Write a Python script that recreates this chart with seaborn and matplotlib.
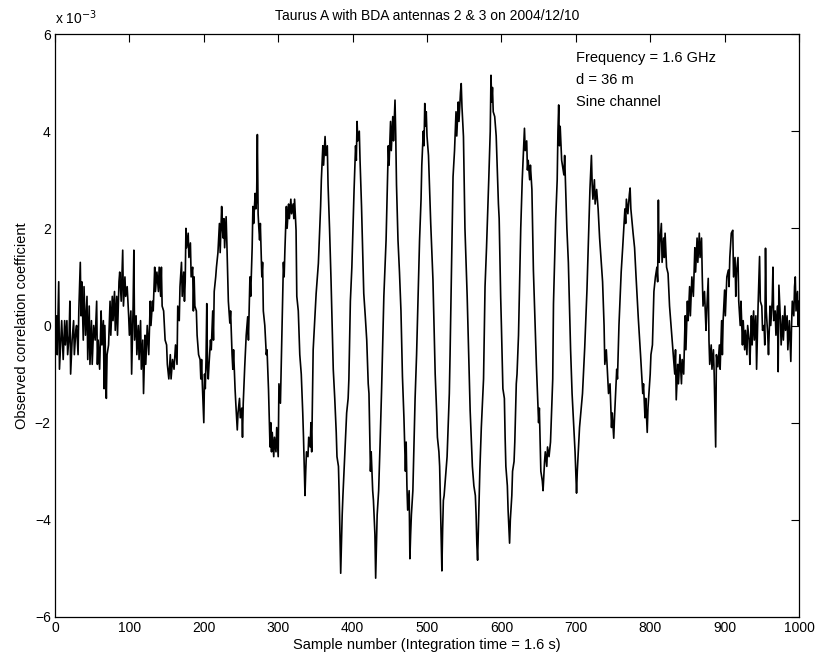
import matplotlib
matplotlib.use("Agg")
import matplotlib.pyplot as plt
import seaborn as sns
import pandas as pd

# ---- data (values in units of 1e-3) ----
sample_number = [
    0, 2, 3, 5, 6, 8, 9, 11, 13, 14, 16, 17, 19, 20, 21, 23, 25, 26, 28, 29,
    31, 32, 34, 35, 36, 38, 39, 41, 43, 44, 46, 47, 49, 50, 52, 54, 56, 57, 58, 60,
    62, 63, 65, 66, 67, 69, 70, 72, 74, 75, 77, 78, 80, 81, 83, 84, 86, 87, 89, 91,
    92, 94, 95, 97, 99, 100, 102, 103, 105, 106, 107, 109, 110, 112, 113, 115, 116, 118, 119, 121,
    122, 124, 126, 128, 129, 131, 132, 134, 135, 137, 139, 140, 142, 143, 144, 146, 148, 150, 151, 153,
    155, 156, 158, 160, 162, 164, 165, 167, 168, 170, 171, 173, 174, 175, 176, 177, 179, 180, 182, 183,
    185, 186, 187, 188, 190, 191, 193, 195, 196, 197, 198, 200, 201, 202, 203, 204, 205, 206, 207, 209,
    210, 212, 213, 214, 216, 217, 219, 221, 222, 224, 225, 226, 227, 228, 230, 231, 233, 235, 236, 238,
    239, 240, 242, 243, 245, 246, 248, 249, 251, 252, 253, 255, 257, 259, 260, 262, 263, 265, 266, 267,
    269, 270, 271, 272, 273, 274, 275, 276, 278, 279, 280, 282, 284, 285, 287, 289, 290, 291, 292, 294,
    295, 297, 298, 300, 301, 303, 305, 306, 307, 308, 309, 311, 312, 314, 315, 317, 318, 320, 321, 322,
    324, 325, 327, 329, 331, 333, 334, 336, 337, 338, 340, 341, 343, 344, 345, 347, 349, 351, 354, 357,
    358, 360, 361, 363, 364, 366, 367, 369, 371, 374, 376, 378, 379, 381, 382, 384, 385, 386, 387, 389,
    390, 392, 394, 395, 397, 399, 402, 404, 405, 406, 407, 409, 410, 412, 415, 417, 419, 421, 422, 424,
    425, 427, 428, 430, 431, 432, 433, 435, 437, 439, 442, 445, 447, 448, 449, 451, 452, 454, 455, 457,
    458, 459, 461, 463, 465, 467, 469, 471, 472, 473, 474, 476, 477, 478, 479, 481, 484, 486, 487, 490,
    492, 493, 495, 496, 497, 498, 499, 500, 502, 505, 508, 510, 511, 513, 514, 516, 517, 519, 520, 521,
    522, 523, 525, 527, 530, 531, 533, 535, 537, 539, 540, 542, 543, 545, 546, 547, 549, 551, 554, 556,
    558, 560, 561, 563, 565, 566, 567, 568, 569, 571, 573, 576, 578, 580, 582, 583, 585, 586, 587, 588,
    589, 591, 593, 596, 597, 599, 600, 602, 604, 605, 606, 608, 609, 611, 612, 614, 615, 617, 618, 620,
    621, 623, 625, 626, 628, 630, 631, 632, 634, 635, 636, 638, 639, 641, 643, 645, 647, 650, 651, 653,
    655, 656, 658, 659, 661, 662, 664, 666, 669, 670, 673, 675, 676, 677, 678, 679, 681, 682, 684, 685,
    688, 690, 693, 695, 697, 699, 700, 701, 702, 705, 709, 712, 715, 717, 719, 721, 722, 723, 725, 726,
    728, 730, 732, 736, 738, 739, 741, 744, 746, 748, 749, 751, 752, 755, 756, 758, 760, 761, 763, 766,
    767, 768, 770, 772, 773, 774, 777, 779, 781, 784, 787, 790, 791, 793, 794, 796, 797, 800, 801, 803,
    805, 807, 809, 810, 811, 812, 813, 815, 816, 818, 819, 820, 822, 824, 826, 829, 831, 833, 834, 835,
    837, 838, 840, 842, 843, 845, 847, 848, 850, 851, 853, 854, 856, 858, 860, 861, 863, 864, 866, 867,
    869, 870, 871, 873, 875, 876, 878, 879, 880, 882, 883, 885, 886, 888, 889, 891, 893, 894, 896, 897,
    898, 900, 901, 903, 905, 906, 907, 909, 911, 912, 914, 915, 916, 918, 919, 921, 922, 924, 925, 927,
    928, 930, 931, 933, 934, 936, 937, 939, 940, 942, 943, 945, 947, 948, 950, 951, 953, 954, 955, 956,
    958, 959, 961, 962, 964, 965, 966, 968, 969, 971, 972, 973, 975, 976, 978, 979, 981, 982, 984, 985,
    987, 989, 990, 991, 993, 994, 995, 996, 998, 999, 1000,
]
correlation_e3 = [
    -0.1, 0.2, -0.6, 0.9, -0.9, -0.2, 0.1, -0.7, 0.1, -0.4, 0.1, -0.6, -0.2, 0.5, -1.0, -0.3, 0.1, -0.6, -0.1, 0.0,
    -0.6, 0.3, 1.3, 0.2, 0.9, -0.3, 0.8, -0.2, 0.6, -0.7, 0.4, -0.8, 0.1, -0.8, 0.0, -0.3, 0.5, -0.8, -0.3, -0.9,
    0.3, -0.4, 0.1, -1.3, 0.0, -1.5, -0.6, -0.4, 0.5, -0.2, 0.6, 0.1, 0.7, -0.1, 0.6, -0.2, 0.9, 1.1, 0.5, 1.55,
    0.4, 1.0, 0.6, 0.8, 0.2, -0.2, 0.3, -1.0, 0.4, 1.55, -0.3, 0.2, -0.6, 0.0, -0.7, 0.1, -0.9, -0.3, -1.4, -0.2,
    -0.8, 0.0, -0.6, 0.5, 0.0, 0.5, 0.3, 1.2, 0.7, 1.1, 0.7, 1.2, 0.6, 1.2, 0.4, 0.3, -0.3, -0.4, -0.8, -1.1,
    -0.6, -1.1, -0.7, -0.9, -0.4, -0.8, 0.4, 0.1, 0.8, 1.3, 0.6, 1.1, 0.5, 0.9, 2.0, 1.6, 1.9, 1.4, 1.7, 1.0,
    1.2, 0.3, 1.0, 0.4, 0.3, -0.2, -0.6, -0.7, -1.1, -0.7, -1.2, -2.0, -1.0, -1.3, -0.7, 0.45, -0.9, -1.1, -0.8, -0.3,
    -0.5, 0.3, -0.3, 0.7, 1.0, 1.2, 1.5, 2.1, 1.5, 2.45, 2.0, 1.8, 2.2, 1.6, 2.24, 1.7, 0.5, 0.05, 0.3, -0.6,
    -0.9, -0.5, -1.3, -1.6, -2.15, -1.8, -1.5, -1.9, -1.7, -2.3, -1.6, -0.85, -0.2, 0.18, -0.3, 1.0, 0.6, 1.6, 2.45, 2.1,
    2.72, 2.4, 2.6, 3.93, 2.3, 2.0, 1.76, 2.1, 1.0, 1.3, 0.3, 0.0, -0.6, -0.5, -1.33, -2.5, -2.0, -2.6, -2.2, -2.7,
    -2.3, -2.6, -2.1, -2.7, -1.2, -1.6, -0.2, 0.5, 1.3, 1.0, 1.55, 2.45, 2.0, 2.5, 2.2, 2.6, 2.3, 2.5, 2.2, 2.6,
    1.96, 0.6, 0.3, -0.6, -1.0, -1.8, -2.3, -3.5, -3.0, -2.6, -2.7, -2.3, -2.5, -2.0, -2.6, -0.5, 0.1, 0.66, 1.28, 2.45,
    3.0, 3.7, 3.3, 3.89, 3.5, 3.7, 2.9, 2.0, 0.94, -0.9, -1.5, -2.2, -2.7, -2.9, -3.5, -5.1, -4.5, -3.9, -3.5, -2.8,
    -2.5, -1.8, -1.5, -1.1, 0.5, 1.2, 2.8, 3.7, 3.4, 4.2, 3.8, 4.0, 3.4, 2.45, 0.66, 0.2, -0.3, -1.2, -1.4, -3.0,
    -2.6, -3.4, -3.6, -4.3, -5.2, -4.5, -3.9, -3.4, -2.4, -1.3, 0.6, 1.76, 3.0, 3.7, 3.3, 4.2, 3.6, 4.3, 3.8, 4.64,
    3.9, 2.9, 1.76, 1.1, 0.3, -1.05, -1.9, -3.0, -2.4, -3.3, -3.8, -3.4, -4.8, -4.3, -3.9, -3.4, -1.5, -0.6, 0.0, 1.76,
    2.6, 3.3, 4.0, 3.7, 4.57, 4.1, 4.4, 3.9, 3.5, 2.1, 0.94, -0.3, -1.0, -1.8, -2.3, -2.6, -2.9, -4.4, -5.05, -4.2,
    -3.6, -3.5, -3.1, -2.7, -1.4, -0.6, 1.28, 3.06, 3.6, 4.4, 3.9, 4.6, 4.2, 4.8, 4.98, 4.5, 3.89, 2.0, 0.6, -0.6,
    -1.75, -2.5, -2.9, -3.3, -3.5, -3.9, -4.5, -4.83, -4.2, -3.0, -2.1, -1.1, 0.8, 1.6, 2.5, 3.0, 4.0, 5.15, 4.6, 4.9,
    4.4, 4.3, 3.9, 2.5, 2.2, 0.6, 0.0, -1.3, -1.5, -2.3, -2.9, -3.3, -3.8, -4.48, -4.0, -3.5, -3.0, -2.8, -2.4, -1.2,
    -1.0, -0.2, 1.3, 2.0, 3.0, 3.7, 4.06, 3.6, 3.8, 3.2, 3.4, 3.0, 3.3, 2.8, 1.14, 0.2, -0.8, -2.0, -1.7, -3.0,
    -3.2, -3.4, -2.8, -2.6, -2.9, -2.5, -2.7, -2.4, -1.1, 0.45, 2.2, 3.0, 4.0, 4.54, 3.7, 4.1, 3.4, 3.3, 3.1, 3.5,
    2.0, 1.3, -0.5, -1.4, -2.0, -2.6, -3.0, -3.45, -3.0, -2.1, -1.4, -0.45, 0.73, 1.8, 2.8, 3.5, 2.9, 2.6, 3.0, 2.5,
    2.8, 2.4, 1.8, 0.9, 0.0, -0.8, -0.5, -1.4, -1.2, -2.1, -1.8, -2.32, -1.9, -0.9, -1.1, 0.0, 0.7, 1.1, 1.6, 2.4,
    2.1, 2.6, 2.3, 2.7, 2.83, 2.4, 1.9, 1.6, 1.0, 0.15, -0.6, -1.4, -1.2, -1.9, -1.5, -2.2, -1.7, -1.0, -0.6, -0.4,
    0.7, 1.0, 1.2, 0.9, 2.58, 1.3, 1.7, 2.1, 1.3, 1.8, 1.4, 1.9, 1.2, 1.07, 0.4, -0.2, -0.6, -1.0, -0.5, -1.53,
    -0.8, -1.2, -0.6, -1.2, -0.7, -1.0, 0.2, -0.5, 0.5, 0.1, 0.8, 0.2, 1.0, 0.6, 1.6, 1.1, 1.8, 1.3, 1.9, 1.4,
    1.8, 1.0, 0.4, 0.7, -0.1, 0.3, 0.97, -0.3, -0.8, -0.4, -0.9, -0.5, -1.0, -2.5, -0.6, -0.85, -0.4, -0.9, 0.1, -0.6,
    0.1, 0.73, 0.2, 1.0, 1.14, 0.8, 1.4, 1.9, 1.96, 1.0, 1.4, 0.6, 1.1, 1.4, 0.5, 0.0, 0.5, -0.4, 0.1, -0.5,
    -0.1, -0.6, 0.0, -0.3, -0.8, 0.2, -0.4, 0.3, -0.3, 0.2, -0.9, 0.4, 1.42, 0.5, 0.4, -0.1, 0.0, -0.4, 1.59, 0.3,
    -0.2, -0.6, 0.4, 0.0, 0.5, 1.2, 0.1, 0.3, -0.2, 0.4, -0.95, 0.83, 0.1, -0.4, 0.2, -0.3, 0.4, -0.1, 0.2, -0.5,
    0.1, -0.74, 0.0, 0.5, 0.2, 0.8, 1.0, 0.3, 0.7, 0.0, 0.5,
]
x_ticks = [0, 100, 200, 300, 400, 500, 600, 700, 800, 900, 1000]
y_ticks = [-6, -4, -2, 0, 2, 4, 6]
title = "Taurus A with BDA antennas 2 & 3 on 2004/12/10"
info_lines = ["Frequency = 1.6 GHz", "d = 36 m", "Sine channel"]

df = pd.DataFrame({"n": sample_number, "v": correlation_e3})

sns.set_theme(style="white")
plt.rcParams["font.family"] = ["Liberation Sans", "DejaVu Sans"]

fig = plt.figure(figsize=(8.24, 6.64), dpi=100)
ax = fig.add_axes([55 / 824, 1 - 617 / 664, (799 - 55) / 824, (617 - 34) / 664])

sns.lineplot(data=df, x="n", y="v", ax=ax, color="black", linewidth=1.2,
             estimator=None, sort=False)

ax.set_xlim(0, 1000)
ax.set_ylim(-6, 6)
ax.set_xticks(x_ticks)
ax.set_yticks(y_ticks)
ax.set_xticklabels([str(t) for t in x_ticks])
ax.set_yticklabels([str(t).replace("-", "\u2212") for t in y_ticks])
ax.tick_params(direction="in", length=6, width=0.8, colors="black",
               top=True, right=True, labelsize=10, pad=3)
for s in ax.spines.values():
    s.set_visible(True)
    s.set_color("black")
    s.set_linewidth(0.9)

ax.set_xlabel("Sample number (Integration time = 1.6 s)", fontsize=10.5, color="black", labelpad=2)
ax.set_ylabel("Observed correlation coefficient", fontsize=10.5, color="black", labelpad=4)
ax.set_title(title, fontsize=10, color="black", pad=10)

ax.text(0.0, 1.012, "x 10$^{-3}$", transform=ax.transAxes, fontsize=10,
        ha="left", va="bottom", color="black")

for i, line in enumerate(info_lines):
    ax.text(700, 5.5 - i * 0.45, line, fontsize=10.5, color="black",
            ha="left", va="center")

fig.savefig("out.png", dpi=100, facecolor="white")
